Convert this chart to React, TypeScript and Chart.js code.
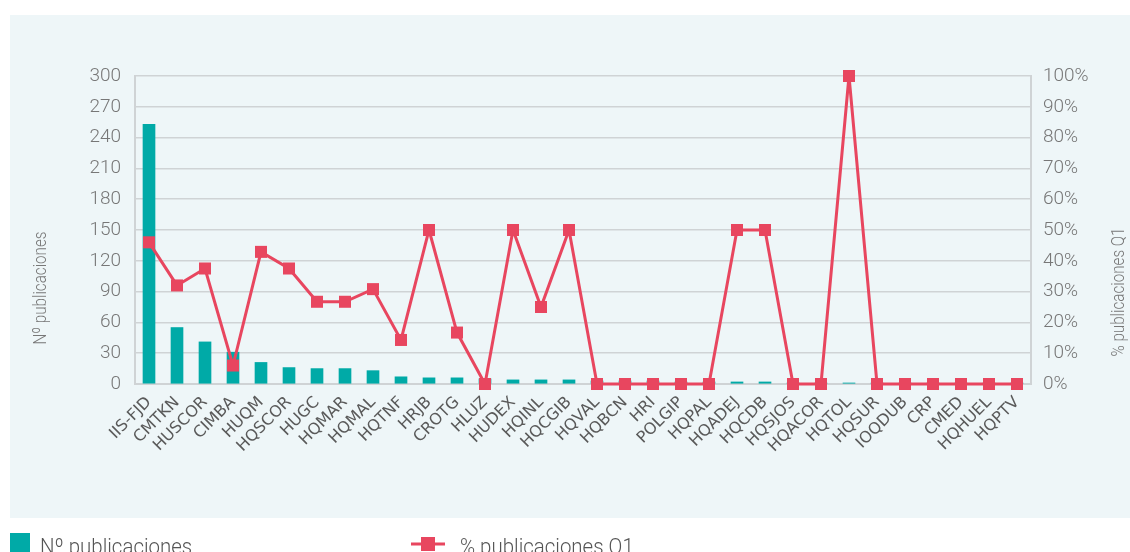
import React, { useEffect, useRef } from "react";
import { Chart, registerables } from "chart.js";

Chart.register(...registerables);

const categories = [
  "IIS-FJD", "CMTKN", "HUSCOR", "CIMBA", "HUQM", "HQSCOR", "HUGC", "HQMAR",
  "HQMAL", "HQTNF", "HRJB", "CROTG", "HLUZ", "HUDEX", "HQINL", "HQCGIB",
  "HQVAL", "HQBCN", "HRI", "POLGIP", "HQPAL", "HQADEJ", "HQCDB", "HQSJOS",
  "HQACOR", "HQTOL", "HQSUR", "IOQDUB", "CRP", "CMED", "HQHUEL", "HQPTV",
];

const publicaciones = [
  253, 55, 41, 31, 21, 16, 15, 15, 13, 7, 6, 6, 5, 4, 4, 4,
  3, 3, 3, 2, 2, 2, 2, 1, 1, 1, 1, 1, 1, 1, 1, 1,
];

const porcentajeQ1 = [
  46, 32, 37.5, 6, 42.9, 37.5, 26.7, 26.7, 30.8, 14.3, 50, 16.7, 0, 50, 25, 50,
  0, 0, 0, 0, 0, 50, 50, 0, 0, 100, 0, 0, 0, 0, 0, 0,
];

const leftTicks = [0, 30, 60, 90, 120, 150, 180, 210, 240, 270, 300];
const rightTicks = [0, 10, 20, 30, 40, 50, 60, 70, 80, 90, 100];

const TEAL = "#00aaa7";
const RED = "#e8465f";
const PANEL = "#eef6f8";
const GRID = "#cfd3d5";
const LIGHT = '"Roboto", "Open Sans", sans-serif';

export default function App() {
  const ref = useRef<HTMLCanvasElement | null>(null);

  useEffect(() => {
    if (!ref.current) return;
    const decor = {
      id: "decor",
      beforeDraw(chart: any) {
        const ctx = chart.ctx;
        ctx.save();
        ctx.fillStyle = "#ffffff";
        ctx.fillRect(0, 0, chart.width, chart.height);
        ctx.fillStyle = PANEL;
        ctx.fillRect(10, 15, chart.width - 10, 503);
        ctx.restore();
      },
      afterDraw(chart: any) {
        const ctx = chart.ctx;
        ctx.save();
        ctx.fillStyle = "#777777";
        ctx.font = `300 19px ${LIGHT}`;
        ctx.textAlign = "center";
        ctx.textBaseline = "middle";
        ctx.save();
        ctx.translate(41, 288);
        ctx.rotate(-Math.PI / 2);
        ctx.scale(0.8, 1);
        ctx.fillText("Nº publicaciones", 0, 0);
        ctx.restore();
        ctx.save();
        ctx.translate(1119, 292);
        ctx.rotate(-Math.PI / 2);
        ctx.scale(0.8, 1);
        ctx.fillText("% publicaciones Q1", 0, 0);
        ctx.restore();
        // legend
        ctx.fillStyle = TEAL;
        ctx.fillRect(10, 533, 20, 20);
        ctx.fillStyle = "#555555";
        ctx.font = `300 22px ${LIGHT}`;
        ctx.textAlign = "left";
        ctx.textBaseline = "alphabetic";
        ctx.save();
        ctx.translate(40, 554);
        ctx.scale(0.93, 1);
        ctx.fillText("Nº publicaciones", 0, 0);
        ctx.restore();
        ctx.strokeStyle = RED;
        ctx.lineWidth = 3;
        ctx.beginPath();
        ctx.moveTo(411, 544);
        ctx.lineTo(445, 544);
        ctx.stroke();
        ctx.fillStyle = RED;
        ctx.fillRect(421, 537, 14, 14);
        ctx.fillStyle = "#555555";
        ctx.save();
        ctx.translate(460, 554);
        ctx.scale(0.93, 1);
        ctx.fillText("% publicaciones Q1", 0, 0);
        ctx.restore();
        ctx.restore();
      },
    };

    const chart = new Chart(ref.current, {
      type: "bar",
      data: {
        labels: categories,
        datasets: [
          {
            type: "line",
            label: "% publicaciones Q1",
            data: porcentajeQ1,
            yAxisID: "y1",
            borderColor: RED,
            backgroundColor: RED,
            borderWidth: 3,
            pointStyle: "rect",
            pointRadius: 8.5,
            pointBorderWidth: 0,
            pointBackgroundColor: RED,
            tension: 0,
            clip: false as any,
            order: 0,
          } as any,
          {
            type: "bar",
            label: "Nº publicaciones",
            data: publicaciones,
            yAxisID: "y",
            backgroundColor: TEAL,
            barThickness: 12,
            order: 1,
          },
        ],
      },
      options: {
        responsive: false,
        animation: false,
        layout: { padding: { left: 0, right: 0, top: 76, bottom: 0 } },
        plugins: {
          legend: { display: false },
          tooltip: { enabled: false },
        },
        scales: {
          x: {
            grid: { display: false, drawTicks: false },
            border: { display: true, color: GRID, width: 2 },
            ticks: {
              color: "#5a5a5a",
              font: { family: '"DejaVu Sans", "Noto Sans", sans-serif', size: 16 },
              maxRotation: 45,
              minRotation: 45,
              autoSkip: false,
              padding: 9,
            },
            afterFit(scale: any) {
              scale.height = 168;
            },
          },
          y: {
            position: "left",
            min: 0,
            max: 300,
            afterBuildTicks(scale: any) {
              scale.ticks = leftTicks.map((v) => ({ value: v }));
            },
            grid: { color: GRID, lineWidth: 1.5, drawTicks: false },
            border: { display: true, color: GRID, width: 2 },
            ticks: {
              color: "#777777",
              font: { family: LIGHT, size: 19, weight: "300" as any },
              padding: 14,
            },
            afterFit(scale: any) {
              scale.width = 135;
            },
          },
          y1: {
            position: "right",
            min: 0,
            max: 100,
            afterBuildTicks(scale: any) {
              scale.ticks = rightTicks.map((v) => ({ value: v }));
            },
            grid: { display: false, drawTicks: false },
            border: { display: true, color: GRID, width: 2 },
            ticks: {
              color: "#777777",
              font: { family: LIGHT, size: 19, weight: "300" as any },
              padding: 12,
              callback: (v: any) => `${v}%`,
            },
            afterFit(scale: any) {
              scale.width = 99;
            },
          },
        },
      },
      plugins: [decor],
    });
    return () => chart.destroy();
  }, []);

  return (
    <div style={{ position: "absolute", left: 0, top: 0, width: 1130, height: 552 }}>
      <canvas ref={ref} width={1130} height={552} style={{ display: "block" }} />
    </div>
  );
}
